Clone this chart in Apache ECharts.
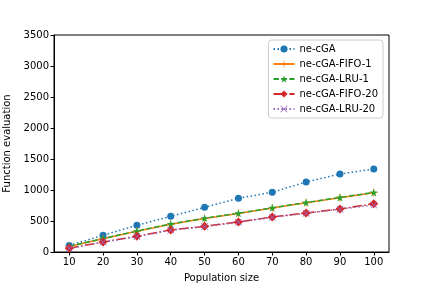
<!DOCTYPE html>
<html><head><meta charset="utf-8">
<script src="https://cdn.jsdelivr.net/npm/echarts@6/dist/echarts.min.js"></script>
<style>html,body{margin:0;padding:0;background:#fff}#c{width:432px;height:288px}</style>
</head><body><div id="c"></div>
<script>
const popSizes = [10,20,30,40,50,60,70,80,90,100];
const neCGA     = [105,270,430,575,720,866,963,1129,1258,1339];
const fifo1     = [90,215,335,448,540,622,708,794,876,957];
const lru1      = [92,218,338,452,545,626,712,798,880,960];
const fifo20    = [62,160,255,355,414,484,565,629,694,780];
const lru20     = [58,158,250,350,410,480,560,624,690,758];
const yTicks = [0,500,1000,1500,2000,2500,3000,3500];
const seriesNames = ['ne-cGA','ne-cGA-FIFO-1','ne-cGA-LRU-1','ne-cGA-FIFO-20','ne-cGA-LRU-20'];

const plusPath = 'path://M-1,-10 L1,-10 L1,-1 L10,-1 L10,1 L1,1 L1,10 L-1,10 L-1,1 L-10,1 L-10,-1 L-1,-1 Z';
const xPath = 'path://M-7.8,-9.2 L0,-1.4 L7.8,-9.2 L9.2,-7.8 L1.4,0 L9.2,7.8 L7.8,9.2 L0,1.4 L-7.8,9.2 L-9.2,7.8 L-1.4,0 L-9.2,-7.8 Z';
const starPath = 'path://M0,-10 L2.35,-3.24 L9.51,-3.09 L3.80,1.24 L5.88,8.09 L0,4 L-5.88,8.09 L-3.80,1.24 L-9.51,-3.09 L-2.35,-3.24 Z';
const diamondPath = 'path://M0,-10 L6.5,0 L0,10 L-6.5,0 Z';

function pairs(vals){ return popSizes.map((x,i)=>[x, vals[i]]); }
function mk(name, vals, color, type, symbol, size){
  return {
    name, type:'line', data: pairs(vals), symbol, symbolSize:size,
    showSymbol:true,
    lineStyle:{color, width:1.5, type},
    itemStyle:{color, borderWidth:0},
    emphasis:{disabled:true},
    animation:false
  };
}
const chart = echarts.init(document.getElementById('c'));
chart.setOption({
  animation:false,
  textStyle:{fontFamily:'DejaVu Sans'},
  grid:{left:54,right:43,top:35,bottom:36,outerBoundsMode:'none',containLabel:false,show:true,borderColor:'#000',borderWidth:1,backgroundColor:'transparent'},
  legend:{
    orient:'vertical', right:49, top:40, itemWidth:21, itemHeight:9, itemGap:5,
    padding:[4,5,4,4], backgroundColor:'#fff', borderColor:'#cccccc', borderWidth:1, borderRadius:3,
    textStyle:{fontSize:10, color:'#000', fontFamily:'DejaVu Sans'},
    data: seriesNames
  },
  xAxis:{
    type:'value', min:5.5, max:104.5,
    name:'Population size', nameLocation:'middle', nameGap:21,
    nameTextStyle:{fontSize:10,color:'#000'},
    axisLine:{show:true,lineStyle:{color:'#000'}},
    axisTick:{show:true,inside:false,length:3.5,lineStyle:{color:'#000'},customValues:popSizes},
    axisLabel:{fontSize:10,color:'#000',margin:5,customValues:popSizes},
    splitLine:{show:false}
  },
  yAxis:{
    type:'value', min:yTicks[0], max:yTicks[yTicks.length-1], interval:500,
    name:'Function evaluation', nameLocation:'middle', nameGap:32, nameRotate:90,
    nameTextStyle:{fontSize:10,color:'#000'},
    axisLine:{show:true,lineStyle:{color:'#000'}},
    axisTick:{show:true,inside:false,length:3.5,lineStyle:{color:'#000'}},
    axisLabel:{fontSize:10,color:'#000',margin:5,formatter:v=>String(v)},
    splitLine:{show:false}
  },
  series:[
    mk(seriesNames[0], neCGA, '#1f77b4', [1.5,2.5], 'circle', 7),
    mk(seriesNames[1], fifo1, '#ff7f0e', 'solid', plusPath, 8),
    mk(seriesNames[2], lru1, '#2ca02c', [5.5,2.4], starPath, 8),
    mk(seriesNames[3], fifo20, '#d62728', [9.6,2.4,1.5,2.4], diamondPath, 9),
    mk(seriesNames[4], lru20, '#9467bd', [1.5,2.5], xPath, 7)
  ]
});
</script></body></html>
